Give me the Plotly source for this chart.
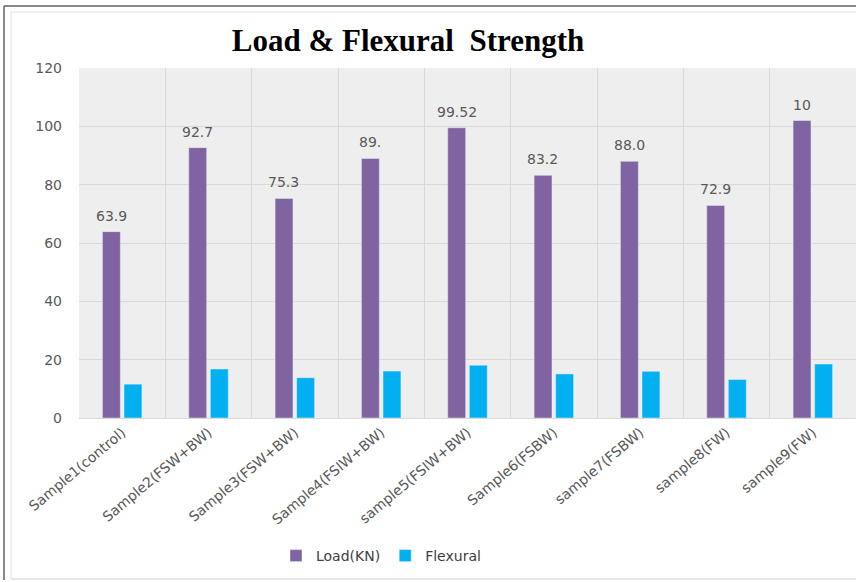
import plotly.graph_objects as go

categories = ["Sample1(control)", "Sample2(FSW+BW)", "Sample3(FSW+BW)", "Sample4(FSIW+BW)",
              "sample5(FSIW+BW)", "Sample6(FSBW)", "sample7(FSBW)", "sample8(FW)", "sample9(FW)"]
load_kn = [63.9, 92.7, 75.3, 89.0, 99.52, 83.2, 88.0, 72.9, 102.0]
load_labels = ["63.9", "92.7", "75.3", "89.", "99.52", "83.2", "88.0", "72.9", "10"]
flexural = [11.6, 16.8, 13.8, 16.1, 18.1, 15.1, 16.0, 13.2, 18.5]
y_ticks = [0, 20, 40, 60, 80, 100, 120]

fig = go.Figure()
fig.add_trace(go.Bar(
    x=categories, y=load_kn, name="Load(KN)", marker_color="#8064A2",
))
fig.add_trace(go.Bar(
    x=categories, y=flexural, name="Flexural", marker_color="#00B0F0",
))

for c, v, t in zip(categories, load_kn, load_labels):
    fig.add_annotation(x=c, y=v, text=t, showarrow=False, xref="x", yref="y",
                       xanchor="center", yanchor="bottom", xshift=-11, yshift=6,
                       font=dict(family="DejaVu Sans", size=14, color="#595959"))

L, T, B = 79, 68, 164
W, H = 856, 582
pw = W - L
ph = H - T - B

def px(x):
    return (x - L) / pw

def py(y):
    return (H - B - y) / ph

fig.update_layout(
    width=W, height=H,
    margin=dict(l=L, r=0, t=T, b=B, pad=0),
    paper_bgcolor="white",
    plot_bgcolor="#eeeeee",
    barmode="group",
    bargap=0.5,
    bargroupgap=0.17,
    title=dict(text="<b>Load & Flexural  Strength</b>", xref="container", yref="container",
               x=408 / W, xanchor="center", y=1 - 40 / H, yanchor="middle",
               font=dict(family="Liberation Serif", size=31, color="#000000")),
    legend=dict(orientation="h", x=px(381), xanchor="center", y=py(556), yanchor="middle",
                font=dict(family="DejaVu Sans", size=14, color="#404040"),
                bgcolor="rgba(0,0,0,0)"),
    showlegend=True,
    xaxis=dict(
        tickson="boundaries", showgrid=True, gridcolor="#d9d9d9", gridwidth=1,
        tickangle=-40, tickfont=dict(family="DejaVu Sans", size=14, color="#595959"),
        showline=True, linecolor="#d9d9d9", ticks="", fixedrange=True,
    ),
    yaxis=dict(
        range=[0, 120], tickvals=y_ticks, showgrid=True, gridcolor="#d9d9d9", gridwidth=1,
        tickfont=dict(family="DejaVu Sans", size=14, color="#595959"),
        ticks="", ticklen=0, ticklabelstandoff=16, zeroline=False, showline=False,
    ),
    shapes=[
        dict(type="line", xref="paper", yref="paper", x0=px(4), x1=px(860), y0=py(6), y1=py(6),
             line=dict(color="#606060", width=1.5)),
        dict(type="line", xref="paper", yref="paper", x0=px(4), x1=px(4), y0=py(6), y1=py(580),
             line=dict(color="#606060", width=1.5)),
        dict(type="line", xref="paper", yref="paper", x0=px(11), x1=px(860), y0=py(579), y1=py(579),
             line=dict(color="#d0d0d0", width=1)),
        dict(type="line", xref="paper", yref="paper", x0=px(11), x1=px(860), y0=py(12), y1=py(12),
             line=dict(color="#e0e0e0", width=1)),
        dict(type="line", xref="paper", yref="paper", x0=px(11), x1=px(11), y0=py(12), y1=py(579),
             line=dict(color="#e0e0e0", width=1)),
    ],
)

fig.write_html("out.html")
